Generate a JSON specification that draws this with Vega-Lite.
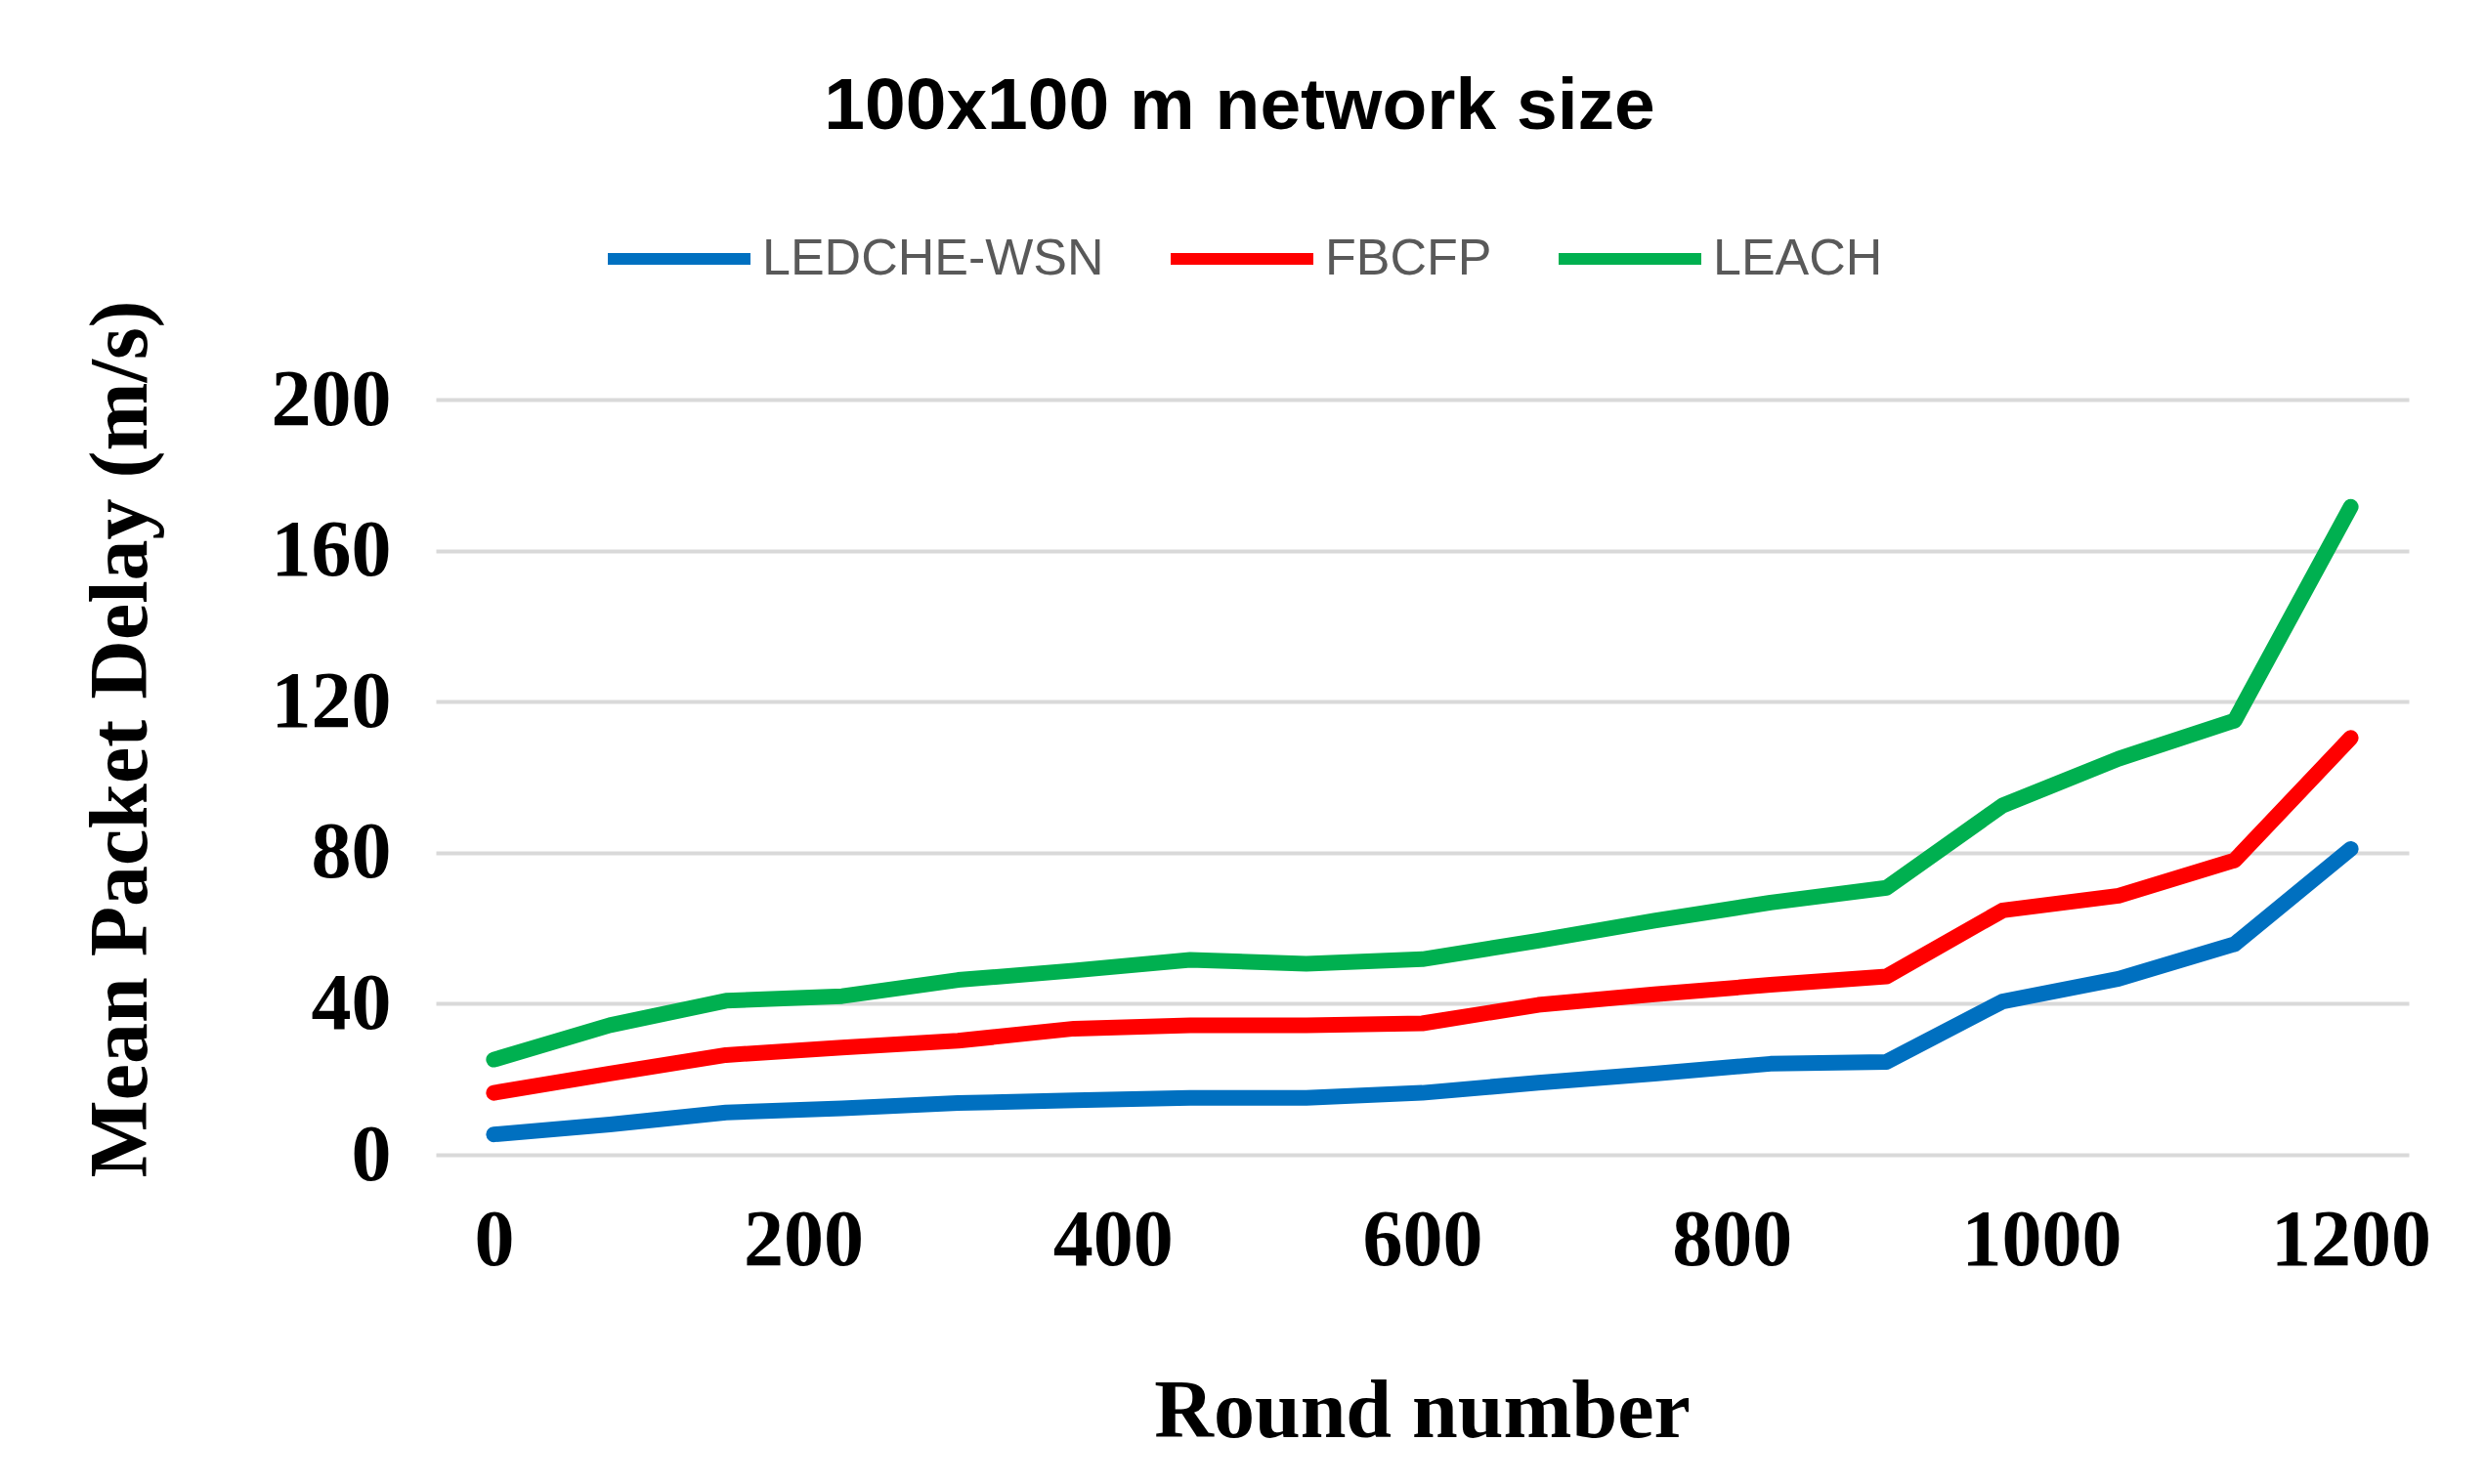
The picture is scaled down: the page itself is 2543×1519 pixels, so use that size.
{
  "$schema": "https://vega.github.io/schema/vega-lite/v6.json",
  "width": 2019,
  "height": 773,
  "autosize": {"type": "none"},
  "padding": {"left": 446, "top": 409, "right": 78, "bottom": 337},
  "background": "white",
  "config": {"view": {"stroke": null}},
  "title": {
    "text": "100x100 m network size",
    "font": "Liberation Sans",
    "fontSize": 75,
    "fontWeight": "bold",
    "color": "black",
    "anchor": "middle",
    "frame": "group",
    "baseline": "alphabetic",
    "offset": -21,
    "dx": -187
  },
  "data": {
    "values": [
      {"round": 0, "series": "LEDCHE-WSN", "delay": 5.4},
      {"round": 75, "series": "LEDCHE-WSN", "delay": 8.0},
      {"round": 150, "series": "LEDCHE-WSN", "delay": 11.2},
      {"round": 225, "series": "LEDCHE-WSN", "delay": 12.3},
      {"round": 300, "series": "LEDCHE-WSN", "delay": 13.7},
      {"round": 375, "series": "LEDCHE-WSN", "delay": 14.4},
      {"round": 450, "series": "LEDCHE-WSN", "delay": 15.1},
      {"round": 525, "series": "LEDCHE-WSN", "delay": 15.1},
      {"round": 600, "series": "LEDCHE-WSN", "delay": 16.4},
      {"round": 675, "series": "LEDCHE-WSN", "delay": 19.1},
      {"round": 750, "series": "LEDCHE-WSN", "delay": 21.5},
      {"round": 825, "series": "LEDCHE-WSN", "delay": 24.1},
      {"round": 900, "series": "LEDCHE-WSN", "delay": 24.6},
      {"round": 975, "series": "LEDCHE-WSN", "delay": 40.6},
      {"round": 1050, "series": "LEDCHE-WSN", "delay": 46.6},
      {"round": 1125, "series": "LEDCHE-WSN", "delay": 55.8},
      {"round": 1200, "series": "LEDCHE-WSN", "delay": 81.0},
      {"round": 0, "series": "FBCFP", "delay": 16.4},
      {"round": 75, "series": "FBCFP", "delay": 21.5},
      {"round": 150, "series": "FBCFP", "delay": 26.4},
      {"round": 225, "series": "FBCFP", "delay": 28.4},
      {"round": 300, "series": "FBCFP", "delay": 30.2},
      {"round": 375, "series": "FBCFP", "delay": 33.4},
      {"round": 450, "series": "FBCFP", "delay": 34.3},
      {"round": 525, "series": "FBCFP", "delay": 34.3},
      {"round": 600, "series": "FBCFP", "delay": 34.8},
      {"round": 675, "series": "FBCFP", "delay": 39.7},
      {"round": 750, "series": "FBCFP", "delay": 42.5},
      {"round": 825, "series": "FBCFP", "delay": 45.0},
      {"round": 900, "series": "FBCFP", "delay": 47.2},
      {"round": 975, "series": "FBCFP", "delay": 64.7},
      {"round": 1050, "series": "FBCFP", "delay": 68.6},
      {"round": 1125, "series": "FBCFP", "delay": 78.0},
      {"round": 1200, "series": "FBCFP", "delay": 110.4},
      {"round": 0, "series": "LEACH", "delay": 25.2},
      {"round": 75, "series": "LEACH", "delay": 34.3},
      {"round": 150, "series": "LEACH", "delay": 40.8},
      {"round": 225, "series": "LEACH", "delay": 42.0},
      {"round": 300, "series": "LEACH", "delay": 46.3},
      {"round": 375, "series": "LEACH", "delay": 48.8},
      {"round": 450, "series": "LEACH", "delay": 51.6},
      {"round": 525, "series": "LEACH", "delay": 50.6},
      {"round": 600, "series": "LEACH", "delay": 51.8},
      {"round": 675, "series": "LEACH", "delay": 56.7},
      {"round": 750, "series": "LEACH", "delay": 62.0},
      {"round": 825, "series": "LEACH", "delay": 66.8},
      {"round": 900, "series": "LEACH", "delay": 70.7},
      {"round": 975, "series": "LEACH", "delay": 92.5},
      {"round": 1050, "series": "LEACH", "delay": 104.9},
      {"round": 1125, "series": "LEACH", "delay": 115.0},
      {"round": 1200, "series": "LEACH", "delay": 171.6}
    ]
  },
  "mark": {"type": "line", "strokeWidth": 16, "strokeJoin": "round", "strokeCap": "round"},
  "encoding": {
    "x": {
      "field": "round",
      "type": "quantitative",
      "scale": {"domain": [-37.5, 1237.5], "nice": false, "zero": false},
      "axis": {
        "values": [0, 200, 400, 600, 800, 1000, 1200],
        "format": "d",
        "grid": false,
        "domain": false,
        "ticks": false,
        "tickSize": 0,
        "labelFont": "Liberation Serif",
        "labelFontWeight": "bold",
        "labelFontSize": 82,
        "labelColor": "black",
        "labelPadding": 47,
        "labelFlush": false,
        "labelOverlap": false,
        "labelLimit": 1000,
        "title": "Round number",
        "titleFont": "Liberation Serif",
        "titleFontWeight": "bold",
        "titleFontSize": 84,
        "titleColor": "black",
        "titleX": 1009,
        "titleY": 288,
        "titleBaseline": "alphabetic",
        "titleAlign": "center"
      }
    },
    "y": {
      "field": "delay",
      "type": "quantitative",
      "scale": {"domain": [0, 200], "nice": false},
      "axis": {
        "values": [0, 40, 80, 120, 160, 200],
        "grid": true,
        "gridColor": "#D9D9D9",
        "gridWidth": 4,
        "domain": false,
        "ticks": false,
        "tickSize": 0,
        "labelFont": "Liberation Serif",
        "labelFontWeight": "bold",
        "labelFontSize": 82,
        "labelColor": "black",
        "labelPadding": 46,
        "labelFlush": false,
        "labelOverlap": false,
        "title": "Mean Packet Delay (m/s)",
        "titleFont": "Liberation Serif",
        "titleFontWeight": "bold",
        "titleFontSize": 84,
        "titleColor": "black",
        "titleAngle": -90,
        "titleX": -279,
        "titleY": 347,
        "titleBaseline": "bottom",
        "titleAlign": "center"
      }
    },
    "color": {
      "field": "series",
      "type": "nominal",
      "scale": {
        "domain": ["LEDCHE-WSN", "FBCFP", "LEACH"],
        "range": ["#0070C0", "#FF0000", "#00B050"]
      },
      "legend": {
        "orient": "none",
        "legendX": 170,
        "legendY": -223,
        "direction": "horizontal",
        "title": null,
        "symbolType": "stroke",
        "symbolSize": 21316,
        "symbolStrokeWidth": 12,
        "labelFont": "Liberation Sans",
        "labelFontSize": 52,
        "labelColor": "#595959",
        "labelOffset": 6,
        "columnPadding": 44,
        "labelLimit": 1000
      }
    }
  }
}
